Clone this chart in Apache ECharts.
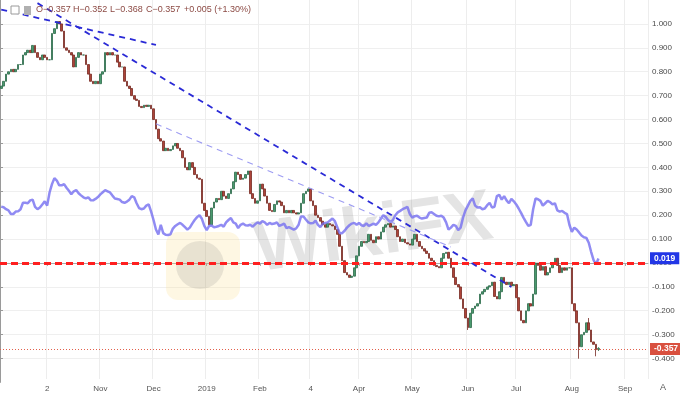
<!DOCTYPE html>
<html><head><meta charset="utf-8">
<script src="https://cdn.jsdelivr.net/npm/echarts/dist/echarts.min.js"></script>
<style>html,body{margin:0;padding:0;background:#fff}#c{width:680px;height:395px}</style>
</head><body><div id="c"></div>
<script>
// ---- categories (trading days) ----
const startDate = '2018-09-05';
const nCategories = 268;
const tickDates  = ['2018-10-02','2018-11-01','2018-12-03','2019-01-02','2019-02-01','2019-03-04','2019-04-01','2019-05-01','2019-06-03','2019-07-01','2019-08-01','2019-09-02'];
const tickLabels = ['2','Nov','Dec','2019','Feb','4','Apr','May','Jun','Jul','Aug','Sep'];

// ---- candle series (daily closes, open = previous close) ----
const firstOpen = 0.73;
const closes = [
0.74,0.76,0.79,0.80,0.81,0.80,0.81,0.83,0.83,0.87,
0.88,0.89,0.88,0.91,0.88,0.86,0.85,0.87,0.86,0.85,
0.85,0.96,0.98,1.01,1.00,0.97,0.90,0.89,0.88,0.87,
0.82,0.86,0.88,0.87,0.87,0.83,0.79,0.76,0.75,0.76,
0.75,0.79,0.80,0.88,0.87,0.88,0.87,0.87,0.84,0.82,
0.82,0.76,0.74,0.73,0.70,0.685,0.68,0.655,0.65,0.66,
0.655,0.66,0.645,0.60,0.56,0.52,0.51,0.47,0.48,0.47,
0.475,0.49,0.50,0.48,0.47,0.44,0.40,0.39,0.42,0.40,
0.37,0.355,0.35,0.25,0.22,0.195,0.16,0.23,0.255,0.27,
0.265,0.30,0.28,0.27,0.29,0.31,0.34,0.38,0.37,0.35,
0.355,0.37,0.385,0.29,0.27,0.25,0.26,0.33,0.31,0.28,
0.25,0.22,0.215,0.245,0.26,0.255,0.24,0.21,0.22,0.21,
0.22,0.21,0.205,0.21,0.25,0.29,0.30,0.31,0.26,0.24,
0.20,0.19,0.175,0.16,0.15,0.165,0.16,0.155,0.14,0.12,
0.07,0.01,-0.04,-0.05,-0.06,-0.055,-0.02,0.03,0.07,0.09,
0.085,0.09,0.12,0.095,0.085,0.11,0.10,0.13,0.15,0.16,
0.165,0.15,0.155,0.14,0.11,0.09,0.10,0.085,0.08,0.075,
0.10,0.12,0.09,0.07,0.06,0.05,0.04,0.02,0.01,-0.01,
-0.015,-0.02,0.02,0.04,0.045,0.02,-0.02,-0.06,-0.09,-0.10,
-0.15,-0.19,-0.23,-0.27,-0.21,-0.19,-0.18,-0.17,-0.13,-0.12,
-0.11,-0.10,-0.095,-0.08,-0.14,-0.15,-0.12,-0.06,-0.08,-0.09,
-0.08,-0.095,-0.09,-0.145,-0.20,-0.24,-0.25,-0.20,-0.17,-0.18,
-0.13,0.00,-0.01,-0.03,-0.015,-0.05,-0.04,-0.02,0.0,0.02,
-0.01,-0.04,-0.02,-0.03,-0.02,-0.02,-0.17,-0.20,-0.25,-0.35,
-0.30,-0.29,-0.25,-0.28,-0.33,-0.34,-0.362,-0.357
];
const wickLowIdx  = [193, 239, 246, 247];
const wickLowVal  = [-0.28, -0.40, -0.39, -0.368];
const wickHighIdx = [243, 247];
const wickHighVal = [-0.23, -0.352];

// ---- comparison line (lavender) ----
const lavender = [
0.236,0.233,0.225,0.22,0.205,0.205,0.215,0.216,0.225,0.252,
0.252,0.25,0.262,0.265,0.235,0.225,0.232,0.245,0.258,0.24,
0.295,0.33,0.355,0.345,0.325,0.325,0.33,0.315,0.302,0.288,
0.30,0.305,0.292,0.283,0.275,0.27,0.275,0.263,0.262,0.268,
0.276,0.287,0.296,0.305,0.30,0.295,0.282,0.27,0.268,0.265,
0.255,0.252,0.257,0.265,0.28,0.275,0.25,0.23,0.225,0.228,
0.24,0.245,0.215,0.18,0.14,0.12,0.16,0.125,0.118,0.117,
0.12,0.144,0.155,0.162,0.168,0.16,0.15,0.14,0.148,0.165,
0.18,0.192,0.2,0.185,0.155,0.138,0.155,0.157,0.15,0.152,
0.155,0.16,0.152,0.17,0.18,0.188,0.17,0.165,0.146,0.16,
0.165,0.158,0.157,0.16,0.152,0.162,0.17,0.165,0.175,0.17,
0.16,0.168,0.163,0.165,0.17,0.155,0.16,0.165,0.146,0.15,
0.145,0.14,0.145,0.16,0.195,0.195,0.182,0.17,0.166,0.167,
0.177,0.16,0.15,0.165,0.168,0.17,0.178,0.186,0.175,0.15,
0.125,0.125,0.135,0.148,0.158,0.165,0.168,0.16,0.168,0.158,
0.155,0.166,0.155,0.16,0.165,0.16,0.17,0.185,0.2,0.193,
0.18,0.172,0.18,0.2,0.212,0.218,0.225,0.23,0.235,0.205,
0.19,0.196,0.198,0.19,0.186,0.188,0.19,0.21,0.212,0.205,
0.198,0.195,0.198,0.19,0.17,0.14,0.148,0.16,0.155,0.138,
0.148,0.19,0.22,0.24,0.26,0.27,0.24,0.232,0.233,0.225,
0.228,0.242,0.252,0.232,0.235,0.28,0.285,0.265,0.28,0.262,
0.25,0.268,0.258,0.245,0.228,0.21,0.19,0.172,0.155,0.16,
0.225,0.27,0.267,0.26,0.24,0.25,0.26,0.255,0.245,0.25,
0.22,0.215,0.218,0.21,0.205,0.16,0.13,0.148,0.14,0.128,
0.115,0.108,0.105,0.085,0.046,0.012,-0.006,0.019
];

// ---- drawn trend lines [categoryIndex, value] and levels ----
const trendUpperShort = [[0, 1.06], [64, 0.912]];
const trendLong       = [[15, 1.087], [211, -0.10]];
const trendLight      = [[64, 0.582], [186, 0.067]];
const supportLevel = 0.0;

// ---- header text ----
const headerParts = ['O\u22120.357', 'H\u22120.352', 'L\u22120.368', 'C\u22120.357', '+0.005 (+1.30%)'];
const headerX = [36, 73, 110, 146, 184];

// build categories (weekdays)
const categories = [];
{
  const d = new Date(startDate + 'T00:00:00Z');
  while (categories.length < nCategories) {
    const wd = d.getUTCDay();
    if (wd !== 0 && wd !== 6) categories.push(d.toISOString().slice(0, 10));
    d.setUTCDate(d.getUTCDate() + 1);
  }
}
const tickSet = new Set(tickDates);
const labelMap = {};
tickDates.forEach((t, i) => labelMap[t] = tickLabels[i]);

const candles = closes.map((c, i) => {
  const o = i === 0 ? firstOpen : closes[i - 1];
  let lo = Math.min(o, c), hi = Math.max(o, c);
  const li = wickLowIdx.indexOf(i); if (li >= 0) lo = wickLowVal[li];
  const hj = wickHighIdx.indexOf(i); if (hj >= 0) hi = wickHighVal[hj];
  return [o, c, lo, hi];
});
const lastClose = closes[closes.length - 1];
const lastLav = lavender[lavender.length - 1];

const tickFn = (idx, val) => tickSet.has(val);
const fmt = v => v.toFixed(3);

const chart = echarts.init(document.getElementById('c'), null, {renderer: 'canvas'});
chart.setOption({
  animation: false,
  backgroundColor: '#ffffff',
  textStyle: {fontFamily: 'Liberation Sans, Arial, sans-serif'},
  grid: [
    {left: 0, right: 32, top: 0, height: 379},
    {left: 0, right: 32, top: 0, height: 382.4}
  ],
  xAxis: [
    {
      type: 'category', gridIndex: 0, data: categories, boundaryGap: true,
      axisLine: {lineStyle: {color: '#a8a8a8'}},
      axisTick: {show: true, interval: tickFn, alignWithLabel: true, length: 3, lineStyle: {color: '#a8a8a8'}},
      axisLabel: {interval: tickFn, formatter: v => labelMap[v] || '', fontSize: 8, color: '#555', margin: 6},
      splitLine: {show: true, interval: tickFn, lineStyle: {color: '#ededed', width: 1}}
    },
    {type: 'value', gridIndex: 1, show: false}
  ],
  yAxis: [
    {type: 'value', gridIndex: 0, min: -0.485, max: 1.1, show: false},
    {
      type: 'value', gridIndex: 1, min: -0.5, max: 1.1, interval: 0.1, position: 'right',
      axisLine: {show: true, lineStyle: {color: '#9a9a9a'}},
      axisTick: {show: true, length: 3, lineStyle: {color: '#9a9a9a'}},
      axisLabel: {formatter: fmt, fontSize: 8, color: '#4a4a4a', margin: 4, showMinLabel: false, showMaxLabel: false},
      splitLine: {show: true, showMinLine: false, showMaxLine: false, lineStyle: {color: '#efefef'}}
    }
  ],
  graphic: [
    {type: 'rect', z: 1, shape: {x: 166, y: 232, width: 74, height: 68, r: 12}, style: {fill: 'rgba(252,222,140,0.24)'}},
    {type: 'circle', z: 1, shape: {cx: 200, cy: 265, r: 24}, style: {fill: 'rgba(120,120,120,0.16)'}},
    {type: 'text', z: 1, x: 250, y: 216, rotation: 0.14, style: {text: 'WikiFX', font: 'bold 72px Liberation Sans, Arial, sans-serif', fill: 'rgba(120,120,120,0.2)'}},
    {type: 'rect', z: 10, shape: {x: 11, y: 6, width: 8, height: 8}, style: {fill: '#fff', stroke: '#9a9a9a', lineWidth: 1}},
    {type: 'rect', z: 10, shape: {x: 24, y: 6, width: 7, height: 9}, style: {fill: '#b0b0b0'}},
    ...headerParts.map((t, i) => ({type: 'text', z: 10, x: headerX[i], y: 5, style: {text: t, font: '9px Liberation Sans, Arial, sans-serif', fill: '#8c4a44'}})),
    {type: 'text', z: 10, x: 660, y: 383, style: {text: 'A', font: '9px Liberation Sans, Arial, sans-serif', fill: '#555'}}
  ],
  series: [
    {
      type: 'candlestick', xAxisIndex: 0, yAxisIndex: 0, data: candles, barWidth: '88%', z: 3,
      itemStyle: {color: '#4a9a6e', color0: '#ad4439', borderColor: '#2c6a4a', borderColor0: '#762a22', borderWidth: 0.8},
      markLine: {
        silent: true, symbol: 'none', animation: false,
        data: [
          {yAxis: supportLevel, lineStyle: {color: '#ff1f1f', width: 3, type: [7, 4]}, label: {show: false}},
          {yAxis: lastClose, lineStyle: {color: '#e2604c', width: 1, type: [1, 2]},
           label: {show: true, position: 'end', distance: 2, formatter: () => fmt(lastClose), color: '#fff', fontSize: 8.5, fontWeight: 'bold',
                   backgroundColor: '#d9503f', padding: [2, 4, 1, 4]}}
        ]
      }
    },
    {
      type: 'line', xAxisIndex: 0, yAxisIndex: 0, data: lavender, showSymbol: false, z: 4,
      lineStyle: {color: 'rgba(116,110,240,0.8)', width: 2.5},
      markLine: {
        silent: true, symbol: 'none', animation: false,
        data: [{yAxis: lastLav, lineStyle: {color: 'rgba(0,0,0,0)', width: 1, type: 'solid'},
          label: {show: true, position: 'end', distance: 2, formatter: () => fmt(lastLav), color: '#fff', fontSize: 8.5, fontWeight: 'bold',
                  backgroundColor: '#2236e6', padding: [2, 4, 1, 4]}}]
      }
    },
    {type: 'line', xAxisIndex: 0, yAxisIndex: 0, data: trendUpperShort, showSymbol: false, z: 5,
     lineStyle: {color: '#2a2ad6', width: 1.8, type: [6, 5]}},
    {type: 'line', xAxisIndex: 0, yAxisIndex: 0, data: trendLong, showSymbol: false, z: 5,
     lineStyle: {color: '#2a2ad6', width: 1.8, type: [6, 5]}},
    {type: 'line', xAxisIndex: 0, yAxisIndex: 0, data: trendLight, showSymbol: false, z: 5,
     lineStyle: {color: '#9d9cf2', width: 1.1, type: [6, 5]}}
  ]
});
</script></body></html>
